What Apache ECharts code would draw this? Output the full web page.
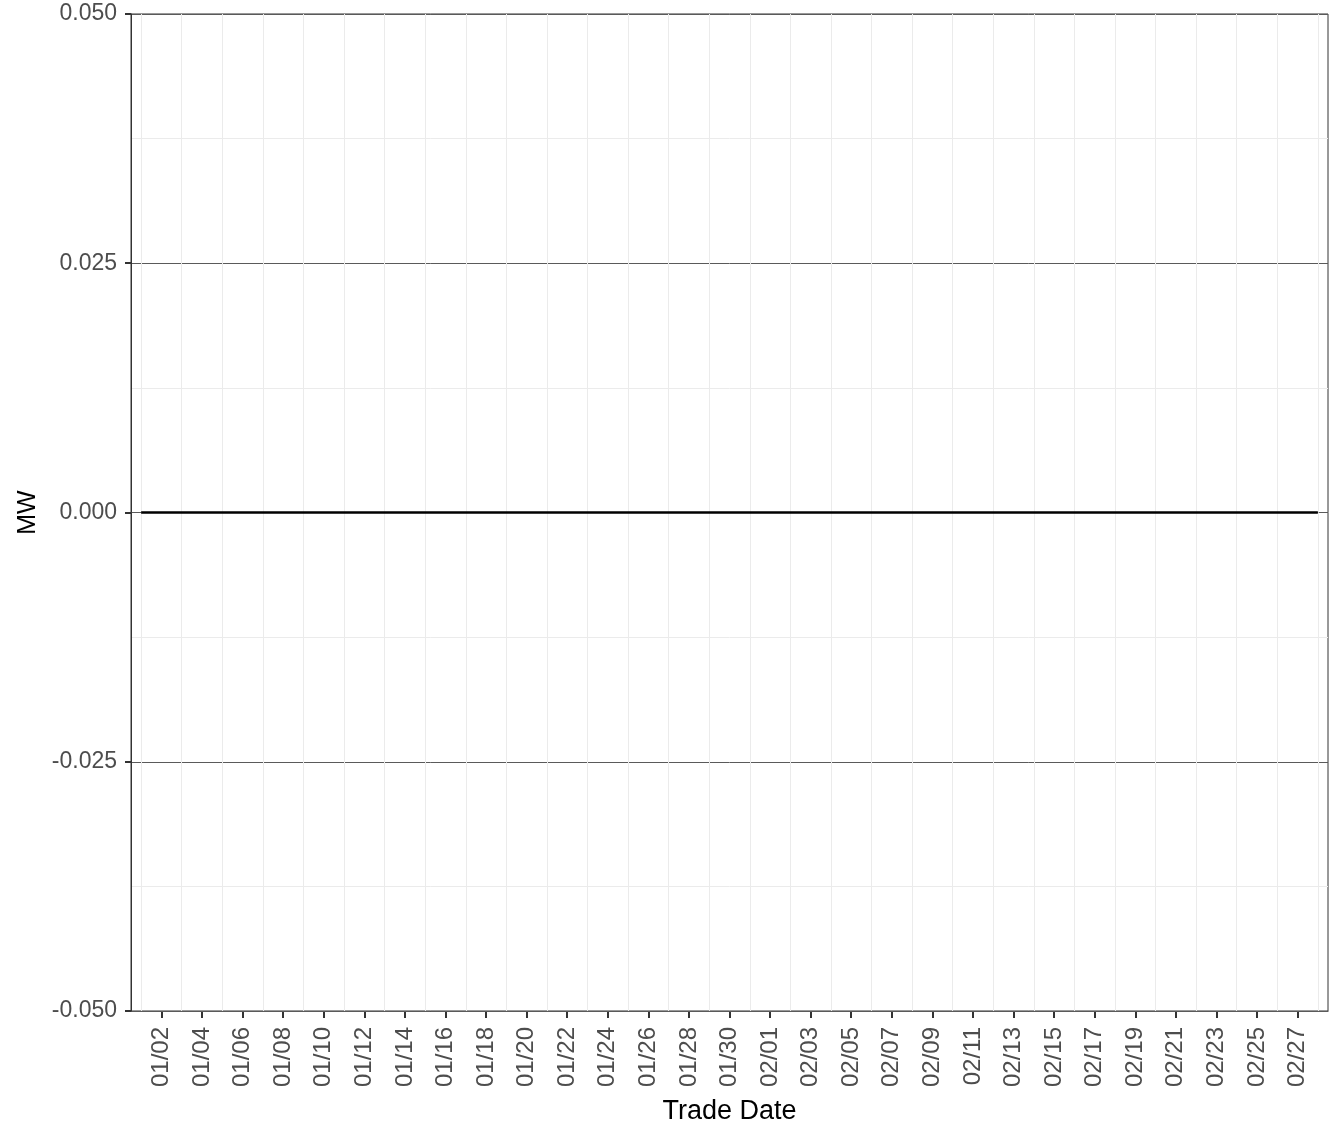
<!DOCTYPE html>
<html>
<head>
<meta charset="utf-8">
<script src="https://cdn.jsdelivr.net/npm/echarts@6/dist/echarts.min.js"></script>
<style>html,body{margin:0;padding:0;background:#fff}#c{width:1344px;height:1142px}</style>
</head>
<body>
<div id="c"></div>
<script>
const dates = ['01/01','01/02','01/03','01/04','01/05','01/06','01/07','01/08','01/09','01/10',
  '01/11','01/12','01/13','01/14','01/15','01/16','01/17','01/18','01/19','01/20',
  '01/21','01/22','01/23','01/24','01/25','01/26','01/27','01/28','01/29','01/30','01/31',
  '02/01','02/02','02/03','02/04','02/05','02/06','02/07','02/08','02/09','02/10',
  '02/11','02/12','02/13','02/14','02/15','02/16','02/17','02/18','02/19','02/20',
  '02/21','02/22','02/23','02/24','02/25','02/26','02/27','02/28'];
const mw = [0,0,0,0,0,0,0,0,0,0, 0,0,0,0,0,0,0,0,0,0, 0,0,0,0,0,0,0,0,0,0,0,
  0,0,0,0,0,0,0,0,0,0, 0,0,0,0,0,0,0,0,0,0, 0,0,0,0,0,0,0,0];
const tickLabels = ['01/02','01/04','01/06','01/08','01/10','01/12','01/14','01/16','01/18','01/20',
  '01/22','01/24','01/26','01/28','01/30','02/01','02/03','02/05','02/07','02/09','02/11',
  '02/13','02/15','02/17','02/19','02/21','02/23','02/25','02/27'];
const gridDates = ['01/01','01/03','01/05','01/07','01/09','01/11','01/13','01/15','01/17','01/19',
  '01/21','01/23','01/25','01/27','01/29','01/31','02/02','02/04','02/06','02/08','02/10',
  '02/12','02/14','02/16','02/18','02/20','02/22','02/24','02/26','02/28'];
const yTicks = [-0.05, -0.025, 0, 0.025, 0.05];

const font = 'Liberation Sans, Arial, Helvetica, sans-serif';
const showTick = (i, v) => tickLabels.indexOf(v) >= 0;

const chart = echarts.init(document.getElementById('c'), null, {renderer: 'canvas'});
chart.setOption({
  animation: false,
  backgroundColor: '#ffffff',
  grid: {left: 131, top: 14, right: 16, bottom: 131, show: true, borderColor: '#333333', borderWidth: 1, containLabel: false},
  xAxis: {
    type: 'category',
    data: dates,
    boundaryGap: true,
    name: 'Trade Date',
    nameLocation: 'middle',
    nameGap: 87,
    nameTextStyle: {fontFamily: font, fontSize: 27, color: '#000000'},
    axisLine: {show: true, onZero: false, lineStyle: {color: '#333333', width: 1}},
    axisTick: {show: true, alignWithLabel: true, interval: showTick, length: 7, lineStyle: {color: '#333333', width: 2}},
    axisLabel: {interval: showTick, rotate: 90, margin: 16, fontFamily: font, fontSize: 24, color: '#4d4d4d'},
    splitLine: {show: false}
  },
  yAxis: {
    type: 'value',
    min: yTicks[0],
    max: yTicks[yTicks.length - 1],
    interval: 0.025,
    z: 3,
    name: 'MW',
    nameLocation: 'middle',
    nameGap: 83,
    nameRotate: 90,
    nameTextStyle: {fontFamily: font, fontSize: 25, color: '#000000'},
    axisLine: {show: true, onZero: false, lineStyle: {color: '#333333', width: 1}},
    axisTick: {show: true, length: 6, lineStyle: {color: '#333333', width: 2}},
    axisLabel: {margin: 14, fontFamily: font, fontSize: 23, color: '#4d4d4d', padding: [4, 0, 0, 0], formatter: v => v.toFixed(3)},
    splitLine: {show: true, lineStyle: {color: '#5a5a5a', width: 1}},
    minorTick: {show: false, splitNumber: 2},
    minorSplitLine: {show: true, lineStyle: {color: '#ebebeb', width: 1}}
  },
  series: [
    {
      type: 'line',
      z: 1,
      data: mw,
      symbol: 'none',
      silent: true,
      lineStyle: {opacity: 0},
      markLine: {
        silent: true,
        symbol: ['none', 'none'],
        label: {show: false},
        lineStyle: {type: 'solid', color: '#ebebeb', width: 1},
        data: gridDates.map(d => ({xAxis: d}))
      }
    },
    {
      type: 'line',
      z: 5,
      data: mw,
      symbol: 'none',
      lineStyle: {color: '#000000', width: 2.4}
    }
  ]
});
</script>
</body>
</html>
